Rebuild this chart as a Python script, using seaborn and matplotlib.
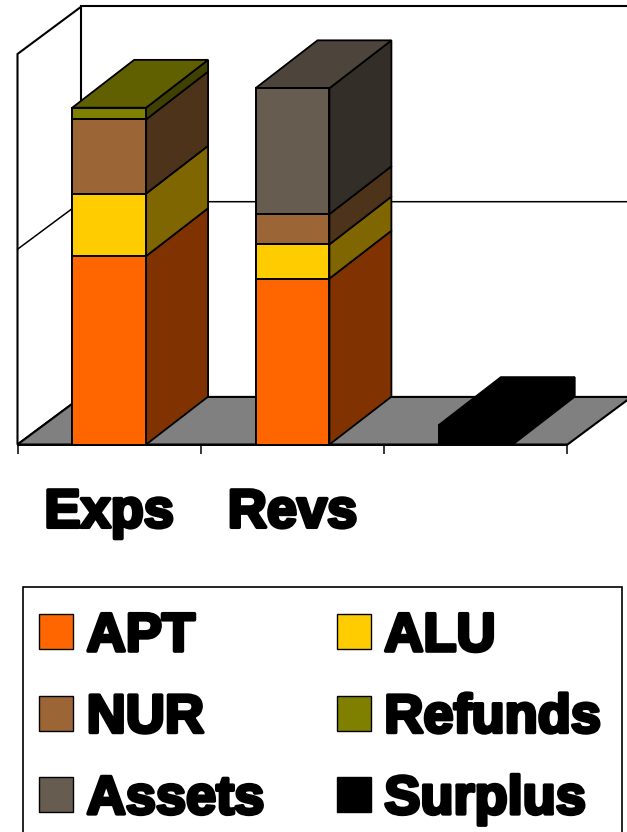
import matplotlib
matplotlib.use("Agg")
import matplotlib.pyplot as plt
import matplotlib.patheffects as pe
from matplotlib.colors import to_rgb
from matplotlib.patches import Patch, Polygon, Rectangle
import pandas as pd
import seaborn as sns

categories = ["Exps", "Revs", " "]
apt = [193, 170, 0]
alu = [64, 35, 0]
nur = [76, 31, 0]
refunds = [12, 0, 0]
assets = [0, 129, 0]
surplus = [0, 0, 20]
series_names = ["APT", "ALU", "NUR", "Refunds", "Assets", "Surplus"]
series_values = [apt, alu, nur, refunds, assets, surplus]
series_colors = ["#ff6600", "#ffcc00", "#9c6535", "#808000", "#665c50", "#000000"]
grid_values = [0, 200, 400]
legend_order = [0, 2, 4, 1, 3, 5]  # matplotlib fills by column, reference reads by row

BAR_W = 0.403
DX, DY = 0.338, 49
WALL_DX, WALL_DY = 0.349, 48.7
HEAVY = [pe.withStroke(linewidth=2.6, foreground="black")]


def shade(color, k):
    return tuple(c * k for c in to_rgb(color))


def stack_table():
    rows = []
    for name, vals in zip(series_names, series_values):
        for cat, v in zip(categories, vals):
            rows.append({"category": cat, "series": name, "value": v})
    df = pd.DataFrame(rows)
    df["top"] = df.groupby("category")["value"].cumsum()
    return df


def draw_walls(ax):
    x0, x1 = -0.5, 2.5
    ymax = grid_values[-1]
    kw = dict(closed=True, edgecolor="black", linewidth=1.5, clip_on=False)
    ax.add_patch(Polygon([(x0, 0), (x0 + WALL_DX, WALL_DY), (x0 + WALL_DX, ymax + WALL_DY), (x0, ymax)],
                         facecolor="white", zorder=1, **kw))
    ax.add_patch(Polygon([(x0 + WALL_DX, WALL_DY), (x1 + WALL_DX, WALL_DY), (x1 + WALL_DX, ymax + WALL_DY),
                          (x0 + WALL_DX, ymax + WALL_DY)], facecolor="white", zorder=1, **kw))
    ax.add_patch(Polygon([(x0, 0), (x1, 0), (x1 + WALL_DX, WALL_DY), (x0 + WALL_DX, WALL_DY)],
                         facecolor="#808080", zorder=1.5, **kw))
    for g in grid_values[1:-1]:
        ax.plot([x0, x0 + WALL_DX, x1 + WALL_DX], [g, g + WALL_DY, g + WALL_DY],
                color="black", linewidth=1.1, zorder=1.2, clip_on=False)


def draw_depth(ax, df):
    # side and top faces, the front comes from seaborn
    for i, cat in enumerate(categories):
        sub = df[(df["category"] == cat) & (df["value"] > 0)]
        right = i + BAR_W / 2
        left = i - BAR_W / 2
        for _, row in sub.iterrows():
            color = series_colors[series_names.index(row["series"])]
            y0, y1 = row["top"] - row["value"], row["top"]
            ax.add_patch(Polygon([(right, y0), (right + DX, y0 + DY), (right + DX, y1 + DY), (right, y1)],
                                 closed=True, facecolor=shade(color, 0.5), edgecolor="black",
                                 linewidth=1.3, zorder=3, clip_on=False))
        last = sub.iloc[-1]
        color = series_colors[series_names.index(last["series"])]
        y1 = last["top"]
        ax.add_patch(Polygon([(left, y1), (right, y1), (right + DX, y1 + DY), (left + DX, y1 + DY)],
                             closed=True, facecolor=shade(color, 0.75), edgecolor="black",
                             linewidth=1.3, zorder=3, clip_on=False))


sns.set_theme(style="white")
plt.rcParams["font.family"] = ["Liberation Sans", "DejaVu Sans"]
plt.rcParams["text.color"] = "black"

fig = plt.figure(figsize=(6.27, 8.32), dpi=100)
ax = fig.add_axes([17.5 / 627, (832 - 444.5) / 832, 550 / 627, 390.5 / 832])
ax.set_facecolor("none")

df = stack_table()
draw_walls(ax)
draw_depth(ax, df)

# tallest cumulative first, so the lower segments sit on top
for name, color in reversed(list(zip(series_names, series_colors))):
    sub = df[(df["series"] == name) & (df["value"] > 0)]
    sns.barplot(data=sub, x="category", y="top", order=categories, color=color, saturation=1,
                width=BAR_W, edgecolor="black", linewidth=1.4, errorbar=None, zorder=4, ax=ax)

ax.set_xlim(-0.5, 2.5)
ax.set_ylim(grid_values[0], grid_values[-1])
ax.set_xlabel("")
ax.set_ylabel("")
ax.set_yticks([])
ax.set_xticks(range(len(categories)))
ax.set_xticklabels(categories, fontsize=39, fontweight="bold", color="black", path_effects=HEAVY)
ax.set_xticks([-0.5, 0.5, 1.5, 2.5], minor=True)
ax.tick_params(axis="x", which="major", length=0, pad=31.5)
ax.tick_params(axis="x", which="minor", length=6.5, width=1.1, color="black", bottom=True)
sns.despine(ax=ax, left=True)
ax.spines["bottom"].set_color("black")
ax.spines["bottom"].set_linewidth(1.4)
ax.spines["bottom"].set_zorder(5)

# box runs off the bottom of the picture, so it is drawn apart from the legend
fig.add_artist(Rectangle((23 / 627, -0.02), 599 / 627, 1 - 587 / 832 + 0.02, transform=fig.transFigure,
                         facecolor="white", edgecolor="black", linewidth=1.2, zorder=0))
handles = [Patch(facecolor=series_colors[i], edgecolor="black", linewidth=1.0) for i in legend_order]
labels = [series_names[i] for i in legend_order]
leg = fig.legend(handles, labels, ncol=2, loc="upper left",
                 bbox_to_anchor=(39 / 627, 1 - 612 / 832), bbox_transform=fig.transFigure,
                 prop={"size": 39, "weight": "bold"}, frameon=False, borderpad=0, labelspacing=0.58,
                 handlelength=0.63, handleheight=0.62, handletextpad=0.25, columnspacing=1.335,
                 borderaxespad=0)
for t in leg.get_texts():
    t.set_path_effects(HEAVY)

fig.savefig("out.png", dpi=100)
plt.close(fig)
